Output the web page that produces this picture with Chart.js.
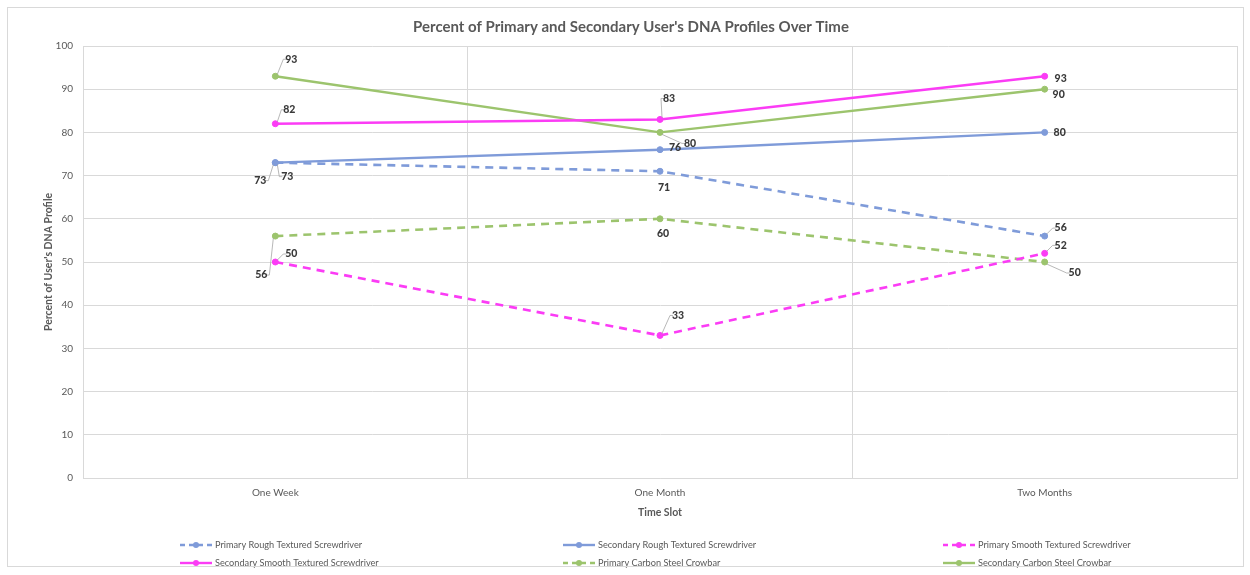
<!DOCTYPE html>
<html>
<head>
<meta charset="utf-8">
<title>DNA Profiles Over Time</title>
<script src="https://cdn.jsdelivr.net/npm/chart.js@4/dist/chart.umd.min.js"></script>
<style>
  html, body { margin: 0; padding: 0; background: #fff; }
  #wrap { position: relative; width: 1250px; height: 575px; }
  #frame { position: absolute; left: 7px; top: 7px; width: 1237px; height: 560px; border: 1px solid #d9d9d9; box-sizing: border-box; pointer-events: none; }
</style>
</head>
<body>
<div id="wrap">
  <canvas id="chart" width="1250" height="575"></canvas>
  <div id="frame"></div>
</div>
<script>
// Time slots on the x axis
const timeSlots = ['One Week', 'One Month', 'Two Months'];

// Percent of the user's DNA profile recovered, per tool
const primaryRoughScrewdriver = [73, 71, 56];
const secondaryRoughScrewdriver = [73, 76, 80];
const primarySmoothScrewdriver = [50, 33, 52];
const secondarySmoothScrewdriver = [82, 83, 93];
const primaryCrowbar = [56, 60, 50];
const secondaryCrowbar = [93, 80, 90];

const seriesNames = [
  'Primary Rough Textured Screwdriver',
  'Secondary Rough Textured Screwdriver',
  'Primary Smooth Textured Screwdriver',
  'Secondary Smooth Textured Screwdriver',
  'Primary Carbon Steel Crowbar',
  'Secondary Carbon Steel Crowbar'
];

// Y axis tick values
const yTicks = [0, 10, 20, 30, 40, 50, 60, 70, 80, 90, 100];

const BLUE = '#7f9bd9';
const PINK = '#fb3cf5';
const GREEN = '#9cc46d';
const TEXT = '#595959';
const FONT = 'Lato, "Open Sans", "Liberation Sans", sans-serif';

function series(label, data, color, dashed) {
  return {
    label, data,
    borderColor: color,
    backgroundColor: color,
    borderWidth: dashed ? 2.6 : 2.4,
    borderDash: dashed ? [8, 6] : [],
    pointRadius: 3,
    pointBorderWidth: 1,
    pointBackgroundColor: color,
    pointBorderColor: color,
    tension: 0,
    fill: false
  };
}

const datasets = [
  series(seriesNames[0], primaryRoughScrewdriver, BLUE, true),
  series(seriesNames[1], secondaryRoughScrewdriver, BLUE, false),
  series(seriesNames[2], primarySmoothScrewdriver, PINK, true),
  series(seriesNames[3], secondarySmoothScrewdriver, PINK, false),
  series(seriesNames[4], primaryCrowbar, GREEN, true),
  series(seriesNames[5], secondaryCrowbar, GREEN, false)
];

// Label placement per [dataset][point]: offset from the marker and whether a leader line is drawn
const labelPlacement = [
  [{dx: -15, dy: 18, lead: true}, {dx: 4, dy: 16}, {dx: 16, dy: -8, lead: true}],
  [{dx: 12, dy: 14, lead: true}, {dx: 15, dy: -2}, {dx: 15, dy: 0}],
  [{dx: 16, dy: -8, lead: true}, {dx: 18, dy: -20, lead: true}, {dx: 16, dy: -8, lead: true}],
  [{dx: 14, dy: -14, lead: true}, {dx: 9, dy: -21, lead: true}, {dx: 16, dy: 2}],
  [{dx: -14, dy: 39, lead: true}, {dx: 3, dy: 15}, {dx: 30, dy: 11, lead: true}],
  [{dx: 16, dy: -17, lead: true}, {dx: 30, dy: 11, lead: true}, {dx: 14, dy: 5}]
];

const pointLabels = {
  id: 'pointLabels',
  afterDatasetsDraw(chart) {
    const ctx = chart.ctx;
    ctx.save();
    ctx.font = '900 10.5px ' + FONT;
    ctx.textAlign = 'center';
    ctx.textBaseline = 'middle';
    chart.data.datasets.forEach((ds, di) => {
      const meta = chart.getDatasetMeta(di);
      meta.data.forEach((pt, i) => {
        const p = labelPlacement[di][i];
        const tx = pt.x + p.dx, ty = pt.y + p.dy;
        if (p.lead) {
          ctx.strokeStyle = '#a6a6a6';
          ctx.lineWidth = 0.8;
          ctx.beginPath();
          const ex = tx + (p.dx >= 0 ? -8 : 8);
          ctx.moveTo(pt.x + (p.dx >= 0 ? 2 : -2), pt.y + (p.dy >= 0 ? 2 : -2));
          ctx.lineTo(ex, ty);
          ctx.lineTo(ex + (p.dx >= 0 ? 3 : -3), ty);
          ctx.stroke();
        }
        ctx.fillStyle = '#3a3a3a';
        ctx.fillText(String(ds.data[i]), tx, ty);
      });
    });
    ctx.restore();
  }
};

// Title and a three-column legend drawn on the canvas
const chrome = {
  id: 'chrome',
  afterDraw(chart) {
    const ctx = chart.ctx;
    ctx.save();
    ctx.fillStyle = TEXT;
    ctx.font = 'bold 15px ' + FONT;
    ctx.textAlign = 'center';
    ctx.textBaseline = 'middle';
    ctx.fillText("Percent of Primary and Secondary User's DNA Profiles Over Time", 631, 27);

    const cols = [180, 563, 943];
    const rows = [545, 563];
    ctx.font = '9.2px ' + FONT;
    ctx.textAlign = 'left';
    chart.data.datasets.forEach((ds, i) => {
      const x = cols[i % 3], y = rows[Math.floor(i / 3)];
      ctx.strokeStyle = ds.borderColor;
      ctx.lineWidth = ds.borderWidth;
      ctx.setLineDash(ds.borderDash.length ? [5, 4] : []);
      ctx.beginPath();
      ctx.moveTo(x, y);
      ctx.lineTo(x + 32, y);
      ctx.stroke();
      ctx.setLineDash([]);
      ctx.fillStyle = ds.borderColor;
      ctx.beginPath();
      ctx.arc(x + 16, y, 3, 0, Math.PI * 2);
      ctx.fill();
      ctx.fillStyle = TEXT;
      ctx.fillText(ds.label, x + 35, y);
    });
    ctx.restore();
  }
};

new Chart(document.getElementById('chart'), {
  type: 'line',
  data: { labels: timeSlots, datasets },
  plugins: [pointLabels, chrome],
  options: {
    responsive: false,
    animation: false,
    layout: { padding: { left: 42, right: 13, top: 46, bottom: 52 } },
    plugins: {
      legend: { display: false },
      title: { display: false },
      tooltip: { enabled: false }
    },
    scales: {
      x: {
        offset: true,
        grid: {
          offset: true,
          drawTicks: false,
          color: (c) => (c.index === 0 || c.index === timeSlots.length) ? 'rgba(0,0,0,0)' : '#d9d9d9',
          lineWidth: 1
        },
        border: { display: true, color: '#d9d9d9' },
        ticks: { color: TEXT, font: { family: FONT, size: 10 }, padding: 9 },
        title: { display: true, text: 'Time Slot', color: TEXT, font: { family: FONT, size: 10.5, weight: 'bold' }, padding: { top: 4 } },
        afterFit(scale) { scale.height = 45; }
      },
      y: {
        min: 0, max: 100,
        afterBuildTicks(scale) { scale.ticks = yTicks.map(v => ({ value: v })); },
        grid: { drawTicks: false, color: '#d9d9d9' },
        border: { display: true, color: '#d9d9d9' },
        ticks: { color: TEXT, font: { family: FONT, size: 10 }, padding: 10 },
        title: { display: true, text: "Percent of User's DNA Profile", color: TEXT, font: { family: FONT, size: 10.5, weight: 'bold' }, padding: { bottom: 0, top: 0 } },
        afterFit(scale) { scale.width = 41; }
      }
    }
  }
});
</script>
</body>
</html>
